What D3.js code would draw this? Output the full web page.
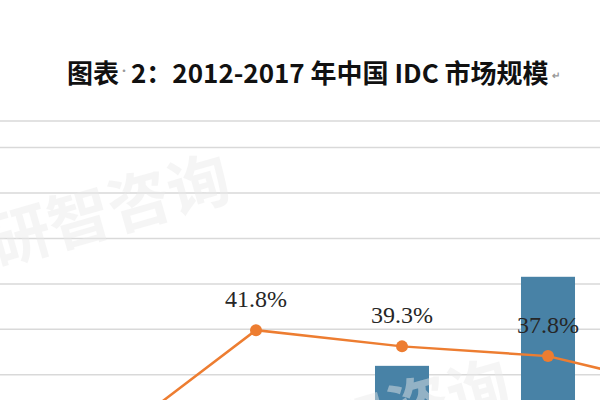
<!DOCTYPE html>
<html>
<head>
<meta charset="utf-8">
<script src="https://cdn.jsdelivr.net/npm/d3@7"></script>
<style>
  html, body { margin: 0; padding: 0; background: #fff; }
  svg { display: block; }
</style>
</head>
<body>
<svg id="chart" width="600" height="400"></svg>
<script>
// ---- data ----
const years = ['2012', '2013', '2014', '2015', '2016', '2017'];
const marketSize = [210.5, 262.5, 372.2, 518.6, 714.5, 946.1]; // 亿元
const growthRate = [0.232, 0.247, 0.418, 0.393, 0.378, 0.324];
const leftTicks = [0, 100, 200, 300, 400, 500, 600, 700, 800, 900, 1000];
const titleMain = '图表';
const titleRest = '2：2012-2017 年中国 IDC 市场规模';
const watermarkText = '研智咨询';

const svg = d3.select('#chart');
const W = 600, H = 400;

// scales (chart is cropped: plot extends beyond the 600x400 view)
const x = d3.scalePoint().domain(years).range([-36, 694]);
const yL = d3.scaleLinear().domain([0, 1000]).range([601.6, 147]);
const yR = d3.scaleLinear().domain([0, 0.7]).range([601.6, 147]);
const barW = x.step() * 0.37;

svg.append('rect').attr('width', W).attr('height', H).attr('fill', '#fff');

// frame line above plot
svg.append('line').attr('x1', 0).attr('x2', W).attr('y1', 121).attr('y2', 121)
  .attr('stroke', '#d9d9d9').attr('stroke-width', 1.5);

// gridlines via axis
const grid = svg.append('g').attr('class', 'grid')
  .call(d3.axisLeft(yL).tickValues(leftTicks).tickSize(-W * 2).tickFormat(''))
  .attr('transform', 'translate(' + W + ',0)');
grid.select('.domain').remove();
grid.selectAll('.tick line').attr('stroke', '#d9d9d9').attr('stroke-width', 1.5)
  .attr('x1', 0).attr('x2', -W);

// bars
svg.append('g').selectAll('rect').data(years).join('rect')
  .attr('x', d => x(d) - barW / 2)
  .attr('y', (d, i) => yL(marketSize[i]))
  .attr('width', barW)
  .attr('height', (d, i) => yL(0) - yL(marketSize[i]))
  .attr('fill', '#4882a6');

// growth line
const line = d3.line().x((d, i) => x(years[i])).y(d => yR(d));
svg.append('path').datum(growthRate)
  .attr('d', line).attr('fill', 'none')
  .attr('stroke', '#ed7d31').attr('stroke-width', 2.5);
svg.append('g').selectAll('circle').data(growthRate).join('circle')
  .attr('cx', (d, i) => x(years[i])).attr('cy', d => yR(d)).attr('r', 6)
  .attr('fill', '#ed7d31');

// watermarks (white lightening layer + faint grey layer)
const wm = svg.append('g').attr('pointer-events', 'none');
[[-4, 266], [276, 471]].forEach(p => {
  [['#ffffff', 0.45], ['#000000', 0.035]].forEach(s => {
    wm.append('text')
      .attr('transform', 'translate(' + p[0] + ',' + p[1] + ') rotate(-16)')
      .attr('font-family', '"Noto Sans CJK SC", sans-serif')
      .attr('font-weight', 'bold').attr('font-size', 62)
      .attr('fill', s[0]).attr('opacity', s[1])
      .text(watermarkText);
  });
});

// labels
svg.append('g').selectAll('text').data(growthRate).join('text')
  .attr('x', (d, i) => x(years[i])).attr('y', d => yR(d) - 23)
  .attr('text-anchor', 'middle')
  .attr('font-family', '"Liberation Serif", "Times New Roman", serif')
  .attr('font-size', 24).attr('fill', '#262626')
  .text(d => (d * 100).toFixed(1) + '%');

// title
const title = svg.append('text')
  .attr('x', 67).attr('y', 83)
  .attr('font-family', '"Noto Sans CJK SC", sans-serif')
  .attr('font-weight', 'bold').attr('font-size', 26).attr('fill', '#111');
title.append('tspan').text(titleMain);
title.append('tspan').attr('font-size', 10).attr('fill', '#999').attr('dy', -8).text('·');
title.append('tspan').attr('dy', 8).attr('dx', 2).text(titleRest);
title.append('tspan').attr('font-size', 10).attr('fill', '#999').attr('dx', 3).attr('dy', -4).text('↵');
</script>
</body>
</html>
